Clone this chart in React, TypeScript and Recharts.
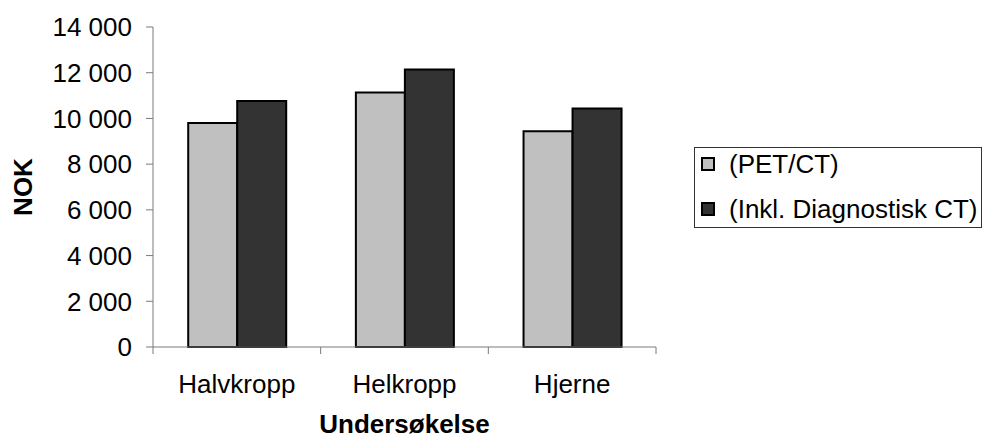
import { BarChart, Bar, XAxis, YAxis, Legend } from "recharts"

const categories = ["Halvkropp", "Helkropp", "Hjerne"]
const petCt = [9800, 11130, 9440]
const inklDiagnostiskCt = [10760, 12140, 10430]
const yTicks = [0, 2000, 4000, 6000, 8000, 10000, 12000, 14000]

const seriesNames = ["(PET/CT)", "(Inkl. Diagnostisk CT)"]
const seriesColors = ["#c0c0c0", "#333333"]

const W = 982
const H = 439
const M = { top: 27, right: 326, bottom: 0, left: 0 }
const YW = 153
const XH = 92
const FS = 26
const FONT = '"Liberation Sans", Arial, sans-serif'
const AXIS = "#7a7a7a"

const data = categories.map((name, i) => ({
  name,
  pet: petCt[i],
  inkl: inklDiagnostiskCt[i],
}))

const fmt = (v: number) => String(v).replace(/\B(?=(\d{3})+(?!\d))/g, " ")

const bandW = (W - M.left - YW - M.right) / categories.length

function XTick(props: any) {
  const { x, y, payload, index, visibleTicksCount } = props
  const last = index === visibleTicksCount - 1
  return (
    <g>
      <line x1={x - bandW / 2} x2={x - bandW / 2} y1={y} y2={y + 7} stroke={AXIS} />
      {last && <line x1={x + bandW / 2} x2={x + bandW / 2} y1={y} y2={y + 7} stroke={AXIS} />}
      <text x={x} y={y + 46} textAnchor="middle" fontSize={FS} fontFamily={FONT} fill="#000">
        {payload.value}
      </text>
    </g>
  )
}

function LegendBox() {
  return (
    <div
      style={{
        border: "1px solid #333",
        width: 288,
        boxSizing: "border-box",
        paddingBottom: 2,
        fontFamily: FONT,
        fontSize: FS,
        color: "#000",
        background: "#fff",
      }}
    >
      {seriesNames.map((n, i) => (
        <div
          key={n}
          style={{
            height: 32,
            lineHeight: "32px",
            marginTop: i === 0 ? 0 : 13,
            display: "flex",
            alignItems: "center",
            whiteSpace: "nowrap",
          }}
        >
          <span
            style={{
              display: "inline-block",
              width: 10,
              height: 10,
              marginLeft: 6,
              marginRight: 14,
              background: seriesColors[i],
              border: "2px solid #000",
            }}
          />
          {n}
        </div>
      ))}
    </div>
  )
}

export default function App() {
  return (
    <div style={{ position: "absolute", left: 0, top: 0, background: "#fff" }}>
      <BarChart width={W} height={H} data={data} margin={M} barGap={0} barCategoryGap="21%">
        <XAxis
          dataKey="name"
          height={XH}
          stroke={AXIS}
          tickLine={false}
          tickSize={0}
          tickMargin={0}
          interval={0}
          tick={<XTick />}
          label={({ viewBox }: any) => (
            <text
              x={viewBox.x + viewBox.width / 2}
              y={433}
              textAnchor="middle"
              fontSize={FS}
              fontWeight="bold"
              fontFamily={FONT}
              fill="#000"
            >
              Undersøkelse
            </text>
          )}
        />
        <YAxis
          width={YW}
          domain={[0, 14000]}
          ticks={yTicks}
          interval={0}
          stroke={AXIS}
          tickSize={7}
          tickMargin={14}
          tickFormatter={fmt}
          tick={{ fontSize: FS, fontFamily: FONT, fill: "#000" }}
          label={({ viewBox }: any) => {
            const cy = viewBox.y + viewBox.height / 2
            return (
              <text
                x={32}
                y={cy}
                transform={`rotate(-90, 32, ${cy})`}
                textAnchor="middle"
                fontSize={FS}
                fontWeight="bold"
                fontFamily={FONT}
                fill="#000"
              >
                NOK
              </text>
            )
          }}
        />
        <Legend
          layout="vertical"
          align="center"
          verticalAlign="middle"
          content={<LegendBox />}
          wrapperStyle={{ position: "absolute", left: 694, top: 147, width: 288 }}
        />
        <Bar dataKey="pet" name={seriesNames[0]} fill={seriesColors[0]} stroke="#000" strokeWidth={2} isAnimationActive={false} />
        <Bar dataKey="inkl" name={seriesNames[1]} fill={seriesColors[1]} stroke="#000" strokeWidth={2} isAnimationActive={false} />
      </BarChart>
    </div>
  )
}
